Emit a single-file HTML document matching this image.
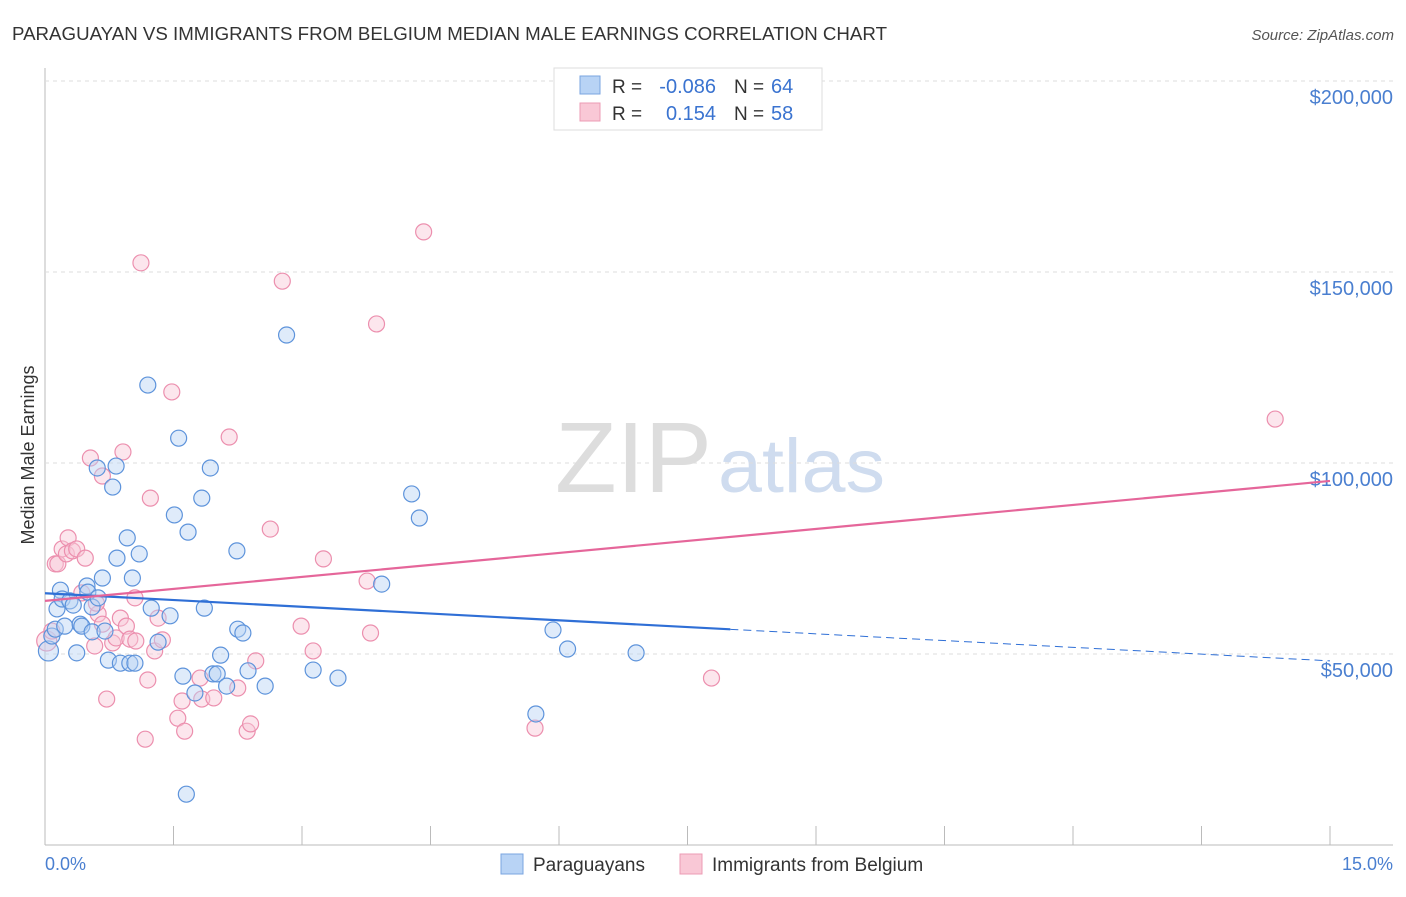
<!DOCTYPE html>
<html><head><meta charset="utf-8"><style>
body{margin:0;background:#fff;font-family:"Liberation Sans",sans-serif;}
svg text{font-family:"Liberation Sans",sans-serif;}
</style></head><body>
<svg id="c" width="1406" height="892">
<text x="12" y="40" font-size="18" fill="#333" textLength="875" lengthAdjust="spacingAndGlyphs">PARAGUAYAN VS IMMIGRANTS FROM BELGIUM MEDIAN MALE EARNINGS CORRELATION CHART</text>
<text x="1394" y="40" font-size="15" fill="#555" text-anchor="end" font-style="italic">Source: ZipAtlas.com</text>
<text x="555" y="492" font-size="100" fill="#ddd" font-family="Liberation Serif" textLength="157" lengthAdjust="spacingAndGlyphs">ZIP</text>
<text x="718" y="492" font-size="76" fill="#cfdcef" textLength="167" lengthAdjust="spacingAndGlyphs">atlas</text>
<g id="grid"></g><g id="marks"></g>
<text transform="translate(34,455) rotate(-90)" font-size="18" fill="#333" text-anchor="middle">Median Male Earnings</text>
<text x="45" y="870" font-size="18" fill="#4a7fd0">0.0%</text>
<text x="1393" y="870" font-size="18" fill="#4a7fd0" text-anchor="end">15.0%</text>
<g>
<rect x="554" y="68" width="268" height="62" fill="#fff" stroke="#ddd"/>
<rect x="580" y="76" width="20" height="18" fill="#b8d3f5" stroke="#7aa5e0"/>
<rect x="580" y="103" width="20" height="18" fill="#f9c8d6" stroke="#ec9bb4"/>
<text x="612" y="93" font-size="19" fill="#333">R =</text>
<text x="716" y="93" font-size="20" fill="#3a73d0" text-anchor="end">-0.086</text>
<text x="734" y="93" font-size="19" fill="#333">N =</text>
<text x="771" y="93" font-size="20" fill="#3a73d0">64</text>
<text x="612" y="120" font-size="19" fill="#333">R =</text>
<text x="716" y="120" font-size="20" fill="#3a73d0" text-anchor="end">0.154</text>
<text x="734" y="120" font-size="19" fill="#333">N =</text>
<text x="771" y="120" font-size="20" fill="#3a73d0">58</text>
</g>
<g>
<rect x="501" y="854" width="22" height="20" fill="#b8d3f5" stroke="#7aa5e0"/>
<text x="533" y="871" font-size="19" fill="#333">Paraguayans</text>
<rect x="680" y="854" width="22" height="20" fill="#f9c8d6" stroke="#ec9bb4"/>
<text x="712" y="871" font-size="19" fill="#333">Immigrants from Belgium</text>
</g>
</svg>
<script>
const yTicks=[50000,100000,150000,200000];
const yTickLabels=["$50,000","$100,000","$150,000","$200,000"];
const xTicks=[0,1.5,3,4.5,6,7.5,9,10.5,12,13.5,15];
const blueX=[0.04,0.08,0.12,0.14,0.18,0.20,0.23,0.29,0.33,0.37,0.41,0.43,0.49,0.50,0.55,0.55,0.61,0.62,0.67,0.70,0.74,0.79,0.83,0.84,0.88,0.96,0.99,1.02,1.05,1.10,1.20,1.24,1.32,1.46,1.51,1.56,1.61,1.67,1.75,1.83,1.86,1.93,1.96,2.01,2.05,2.12,2.24,2.25,2.31,2.37,2.57,2.82,3.13,3.42,3.93,4.28,4.37,5.73,5.93,6.10,6.90,1.65];
const blueY=[50.8,54.7,56.5,61.8,66.7,64.4,57.3,63.9,62.8,50.3,57.8,57.3,67.8,66.2,62.3,55.8,98.7,64.7,69.9,56.0,48.4,93.7,99.2,75.1,47.6,80.4,47.6,69.9,47.6,76.2,120.4,62.0,53.1,60.0,86.4,106.5,44.2,81.9,39.8,90.8,62.0,98.7,44.8,44.8,49.7,41.6,77.0,56.5,55.5,45.6,41.6,133.5,45.8,43.7,68.3,91.9,85.6,34.3,56.3,51.3,50.3,13.3];
const pinkX=[0.02,0.08,0.12,0.15,0.20,0.25,0.27,0.32,0.37,0.43,0.47,0.53,0.58,0.62,0.67,0.67,0.72,0.79,0.83,0.88,0.91,0.95,0.99,1.05,1.06,1.12,1.17,1.20,1.23,1.28,1.32,1.37,1.48,1.55,1.60,1.63,1.81,1.83,1.97,2.15,2.25,2.36,2.40,2.46,2.63,2.77,2.99,3.13,3.25,3.76,3.80,3.87,4.42,5.72,7.78,14.36,0.60];
const pinkY=[53.4,56.0,73.6,73.6,77.5,76.2,80.4,77.0,77.5,66.0,75.1,101.3,52.1,60.5,96.6,57.8,38.2,52.9,54.2,59.4,102.9,57.3,53.9,64.7,53.4,152.4,27.7,43.2,90.8,50.8,59.4,53.7,118.6,33.2,37.7,29.8,43.7,38.2,38.5,106.8,41.1,29.8,31.7,48.2,82.7,147.6,57.3,50.8,74.9,69.1,55.5,136.4,160.5,30.6,43.7,111.5,63.3];
const blueTrend=[65.9,48.2]; const blueSolidEnd=8.0;
const pinkTrend=[63.9,95.3];
const NS="http://www.w3.org/2000/svg";
const X=v=>45+v/1.5*128.5;
const Y=v=>845-v*191/50000;
const grid=document.getElementById('grid'),marks=document.getElementById('marks');
function mk(p,tag,a){const e=document.createElementNS(NS,tag);for(const k in a)e.setAttribute(k,a[k]);p.appendChild(e);return e;}
let ax=mk(grid,'line',{x1:45,y1:68,x2:45,y2:845,stroke:'#bbb'});


let bx=mk(grid,'line',{x1:45,y1:845,x2:1393,y2:845,stroke:'#bbb'});


yTicks.forEach((t,i)=>{
 const g=mk(grid,'line',{x1:45,x2:1393,y1:Y(t),y2:Y(t),stroke:'#ddd','stroke-dasharray':'4,4'});
 
 
 const tx=mk(grid,'text',{x:1393,y:Y(t)+23,'font-size':20,fill:'#4a7fd0','text-anchor':'end'});
 tx.textContent=yTickLabels[i];
 
 
});
xTicks.forEach(t=>{
 const l=mk(grid,'line',{x1:X(t),x2:X(t),y1:826,y2:845,stroke:'#bbb'});
 
 
});
function dots(xs,ys,fill,stroke,name){xs.forEach((x,i)=>{
 const c=mk(marks,'circle',{cx:X(x),cy:Y(ys[i]*1000),r:i==0?10:8,fill:fill,'fill-opacity':0.45,stroke:stroke,'stroke-width':1.2});
 
 
});}
dots(pinkX,pinkY,'#f9c8d6','#ec8fae','belgium-point');
dots(blueX,blueY,'#b8d3f5','#5d93db','paraguayan-point');
const bAt=x=>blueTrend[0]+(blueTrend[1]-blueTrend[0])*x/15;
let l1=mk(marks,'line',{x1:X(0),y1:Y(bAt(0)*1000),x2:X(blueSolidEnd),y2:Y(bAt(blueSolidEnd)*1000),stroke:'#2f6fd6','stroke-width':2.2});


let l2=mk(marks,'line',{x1:X(blueSolidEnd),y1:Y(bAt(blueSolidEnd)*1000),x2:X(15),y2:Y(bAt(15)*1000),stroke:'#2f6fd6','stroke-width':1,'stroke-dasharray':'8,5'});


let l3=mk(marks,'line',{x1:X(0),y1:Y(pinkTrend[0]*1000),x2:X(15),y2:Y(pinkTrend[1]*1000),stroke:'#e5669a','stroke-width':2.2});


</script>
</body></html>
